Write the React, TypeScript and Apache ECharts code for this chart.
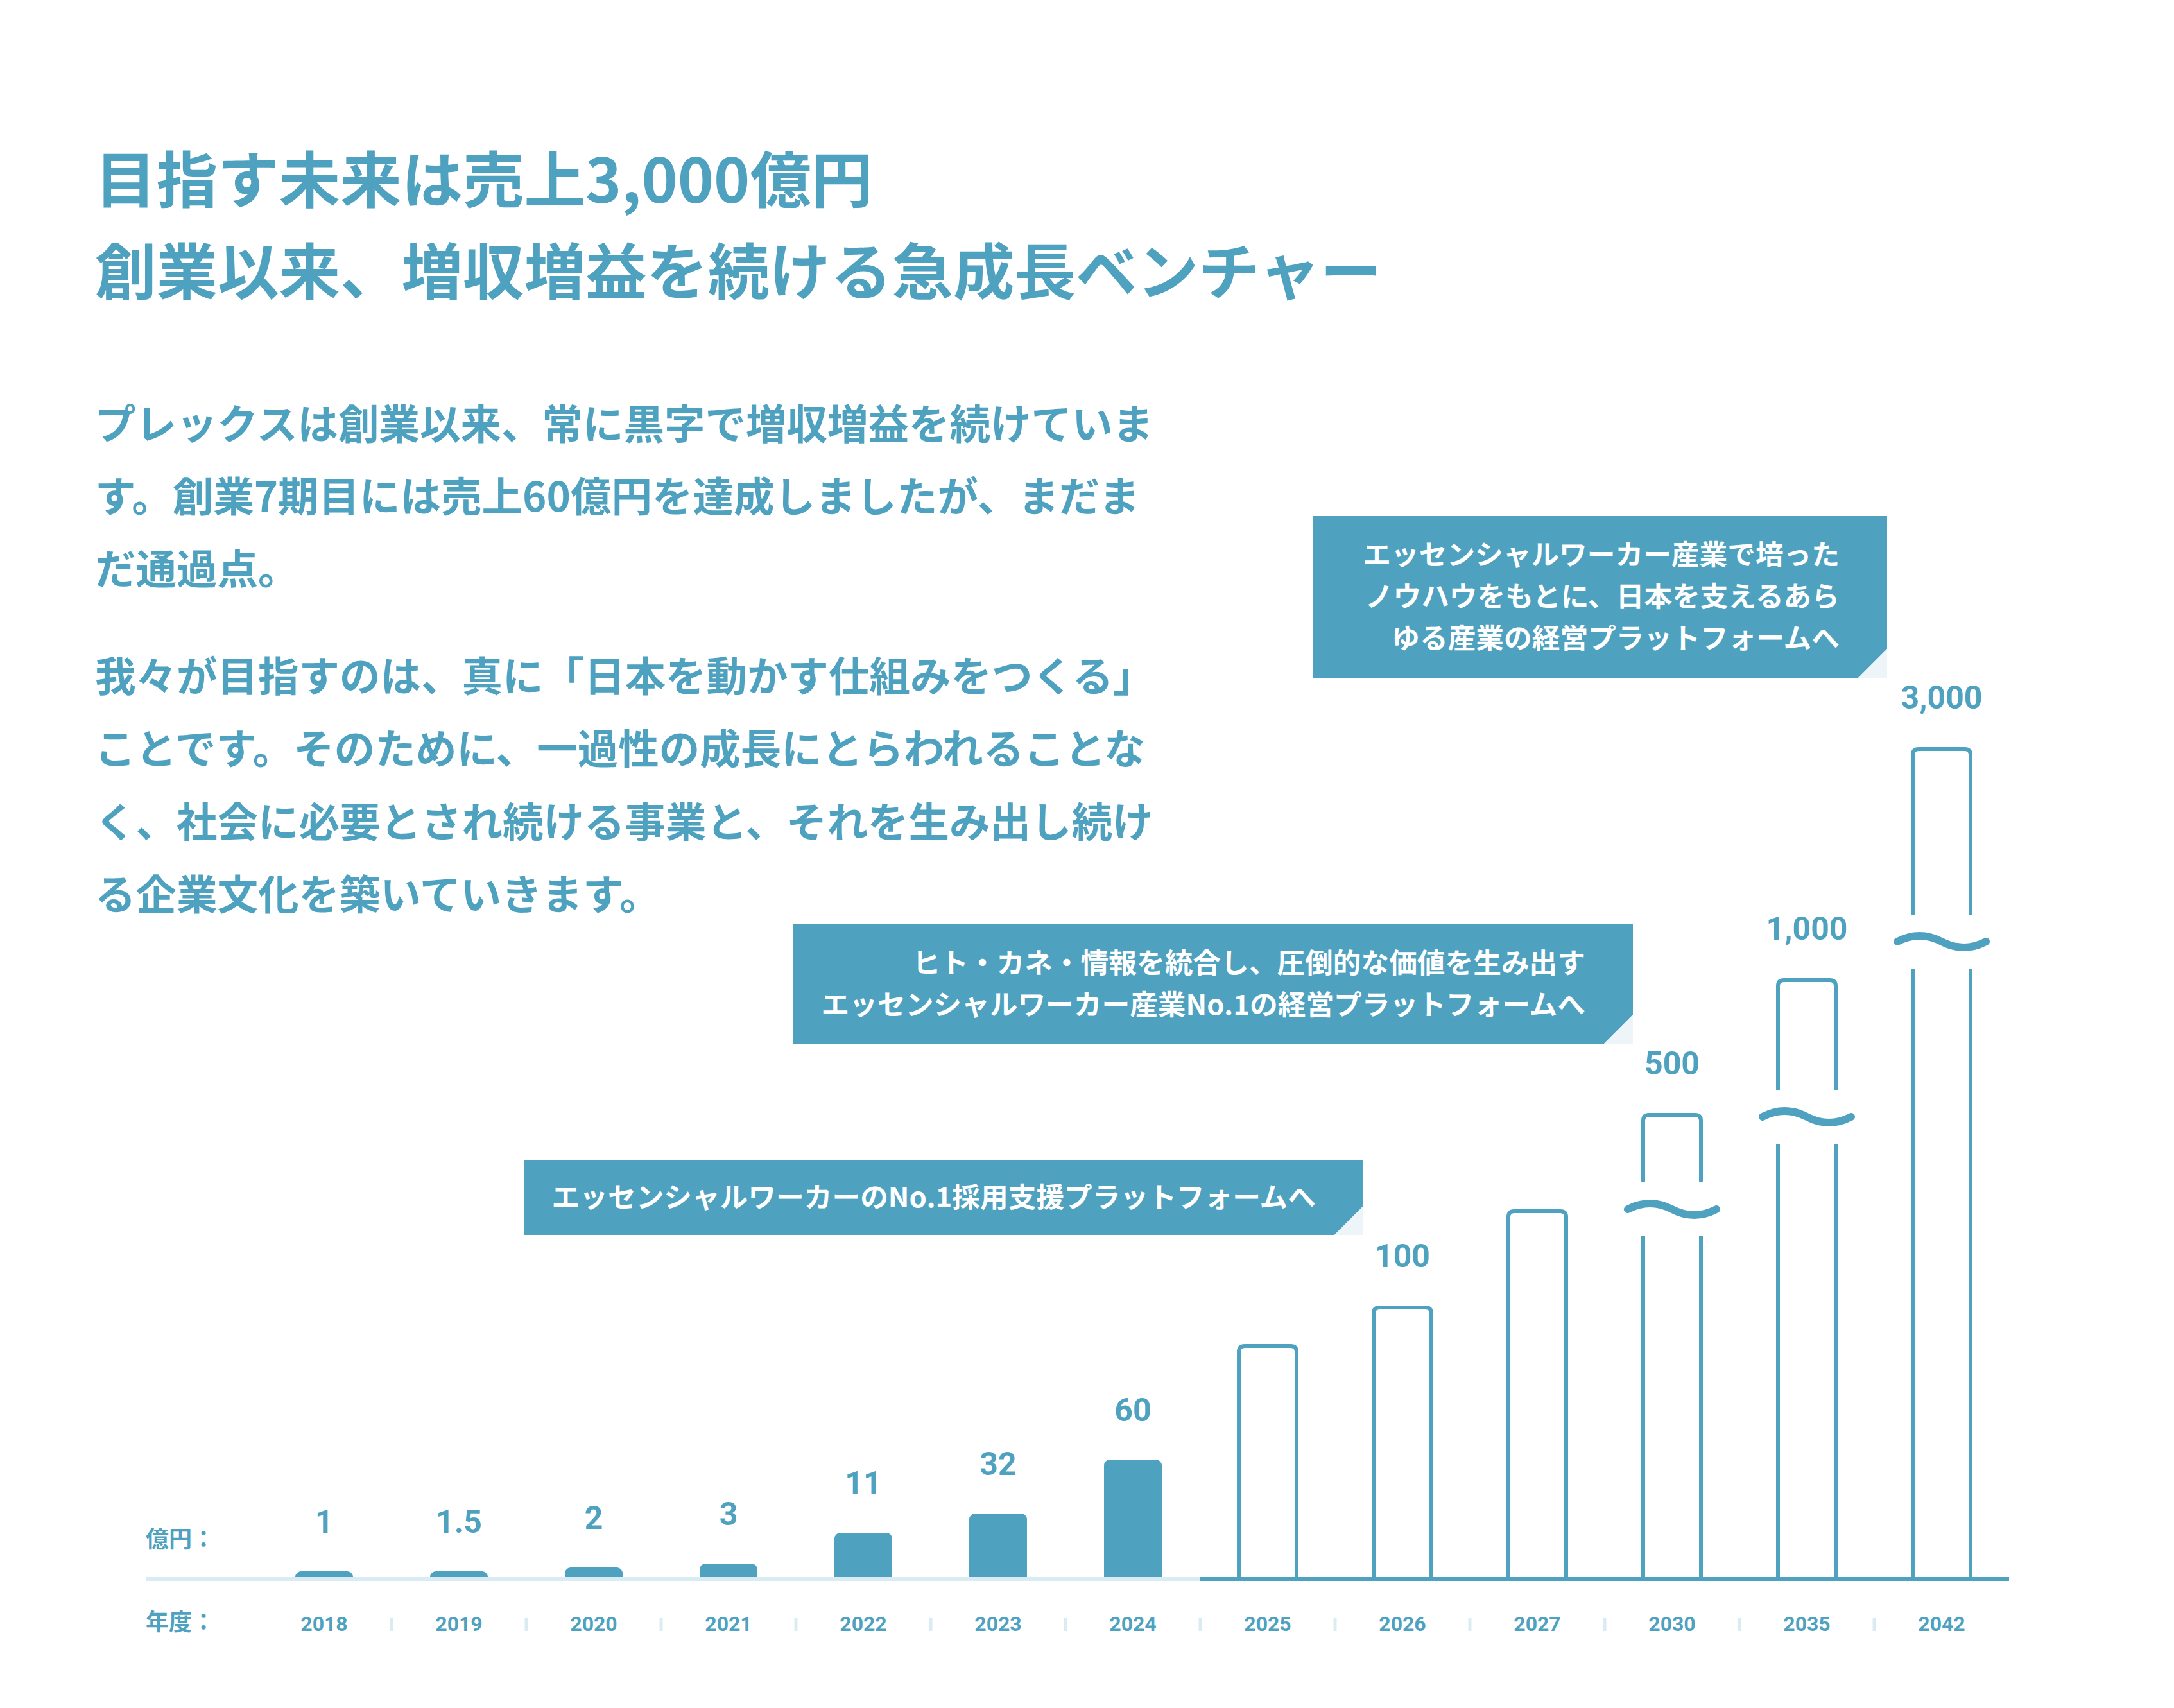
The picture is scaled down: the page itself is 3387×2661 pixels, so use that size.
import React, { useEffect, useRef } from 'react';
import * as echarts from 'echarts';

const TEAL = '#4ea1bf';
const LIGHT = '#daecf3';
const CORNER = '#eef5f8';
const JP = "'Noto Sans CJK JP', 'Noto Sans', sans-serif";
const NUM = "Roboto, 'Noto Sans', sans-serif";

// ---- data ----
const years = ['2018', '2019', '2020', '2021', '2022', '2023', '2024', '2025', '2026', '2027', '2030', '2035', '2042'];
const valueLabels = ['1', '1.5', '2', '3', '11', '32', '60', '', '100', '', '500', '1,000', '3,000'];
// bar heights as drawn in the picture (the original is not to scale)
const barHeights = [3, 3, 5, 7, 23, 33, 61, 120, 140, 190, 240, 310, 430];
const achievedCount = 7; // 2018-2024 achieved (filled bars); later years are targets (outline bars)
const breakYears = ['2030', '2035', '2042'];
const breakLevels = [191, 239, 330];

const titleLines = ['目指す未来は売上3,000億円', '創業以来、増収増益を続ける急成長ベンチャー'];
const paragraph1 = [
  'プレックスは創業以来、常に黒字で増収増益を続けていま',
  'す。創業7期目には売上60億円を達成しましたが、まだま',
  'だ通過点。',
];
const paragraph2 = [
  '我々が目指すのは、真に「日本を動かす仕組みをつくる」',
  'ことです。そのために、一過性の成長にとらわれることな',
  'く、社会に必要とされ続ける事業と、それを生み出し続け',
  'る企業文化を築いていきます。',
];
const calloutTexts = [
  ['エッセンシャルワーカー産業で培った', 'ノウハウをもとに、日本を支えるあら', 'ゆる産業の経営プラットフォームへ'],
  ['ヒト・カネ・情報を統合し、圧倒的な価値を生み出す', 'エッセンシャルワーカー産業No.1の経営プラットフォームへ'],
  ['エッセンシャルワーカーのNo.1採用支援プラットフォームへ'],
];
const unitLabel = '億円：';
const yearLabel = '年度：';

// ---- layout ----
const calloutBoxes = [
  [2046, 804, 2940, 1056],
  [1236, 1440, 2544, 1626],
  [816, 1807, 2124, 1924],
];
const TEXT_SHIFT = -4;

export default function App() {
  const ref = useRef<HTMLDivElement>(null);
  useEffect(() => {
    if (!ref.current) return;
    const chart = echarts.init(ref.current, null, { renderer: 'svg' });
    const barData = barHeights.map((h, i) => {
      const achieved = i < achievedCount;
      return {
        value: h,
        itemStyle: achieved
          ? { color: TEAL, borderRadius: [9, 9, 0, 0] }
          : { color: 'rgba(0,0,0,0)' },
        label: { distance: achieved ? 52 : 55 },
      };
    });
    const outlineData = barHeights
      .map((h, i) => [i, h])
      .filter((d) => d[0] >= achievedCount);
    const breakData = breakYears.map((y, i) => [years.indexOf(y), breakLevels[i]]);

    chart.setOption({
      animation: false,
      backgroundColor: '#ffffff',
      grid: { left: 400, right: 257, top: 1107, bottom: 204 },
      xAxis: {
        type: 'category',
        data: years,
        axisLine: { show: false },
        axisTick: { show: false },
        axisLabel: {
          color: TEAL,
          fontSize: 32,
          lineHeight: 32,
          fontWeight: 'bold',
          fontFamily: NUM,
          margin: 57,
        },
      },
      yAxis: { type: 'value', min: 0, max: 450, show: false, splitLine: { show: false } },
      series: [
        {
          type: 'bar',
          data: barData,
          barWidth: 90,
          z: 2,
          label: {
            show: true,
            position: 'top',
            color: TEAL,
            fontSize: 50,
            lineHeight: 50,
            fontWeight: 'bold',
            fontFamily: NUM,
            formatter: (p: any) => valueLabels[p.dataIndex],
          },
        },
        {
          type: 'custom',
          z: 3,
          data: outlineData,
          renderItem: (params: any, api: any) => {
            const top = api.coord([api.value(0), api.value(1)]);
            const base = api.coord([api.value(0), 0]);
            const half = 45;
            const r = 9;
            const l = top[0] - half;
            const rt = top[0] + half;
            const t = top[1];
            const b = base[1] + 2;
            const d = `M ${l} ${b} L ${l} ${t + r} Q ${l} ${t} ${l + r} ${t} L ${rt - r} ${t} Q ${rt} ${t} ${rt} ${t + r} L ${rt} ${b}`;
            return {
              type: 'path',
              shape: { pathData: d },
              style: { stroke: TEAL, lineWidth: 6, fill: null },
            };
          },
        },
        {
          type: 'custom',
          z: 5,
          data: breakData,
          renderItem: (params: any, api: any) => {
            const pt = api.coord([api.value(0), api.value(1)]);
            const cx = pt[0];
            const cy = pt[1];
            const d = `M ${cx - 69} ${cy} C ${cx - 46} ${cy - 12} ${cx - 23} ${cy - 12} ${cx} ${cy} C ${cx + 23} ${cy + 12} ${cx + 46} ${cy + 12} ${cx + 69} ${cy}`;
            return {
              type: 'group',
              children: [
                { type: 'rect', shape: { x: cx - 60, y: cy - 42, width: 120, height: 84 }, style: { fill: '#ffffff' } },
                { type: 'path', shape: { pathData: d }, style: { stroke: TEAL, lineWidth: 12, fill: null, lineCap: 'round' } },
              ],
            };
          },
        },
      ],
    });

    const p0 = chart.convertToPixel({ gridIndex: 0 }, [0, 0]) as number[];
    const p1 = chart.convertToPixel({ gridIndex: 0 }, [1, 0]) as number[];
    const band = p1[0] - p0[0];
    const baseY = p0[1];
    const boundary = (k: number) => p0[0] - band / 2 + k * band;

    const g: any[] = [];
    const text = (x: number, y: number, t: string, size: number, fill: string, align = 'left', family = JP) => ({
      type: 'text',
      x,
      y: y + TEXT_SHIFT,
      z: 20,
      style: { text: t, fill, fontSize: size, fontWeight: 'bold', fontFamily: family, align, verticalAlign: 'middle' },
    });

    // title
    g.push(text(148, 278, titleLines[0], 95.5, TEAL));
    g.push(text(148, 421, titleLines[1], 95.5, TEAL));
    // paragraphs
    const p1Y = [660, 773, 886];
    paragraph1.forEach((l, i) => g.push(text(148, p1Y[i], l, 63.5, TEAL)));
    const p2Y = [1053, 1166, 1280, 1393];
    paragraph2.forEach((l, i) => g.push(text(148, p2Y[i], l, 63.5, TEAL)));

    // callouts
    calloutBoxes.forEach((b, i) => {
      const [x0, y0, x1, y1] = b;
      const c = 45;
      g.push({
        type: 'polygon',
        z: 10,
        shape: { points: [[x0, y0], [x1, y0], [x1, y1 - c], [x1 - c, y1], [x0, y1]] },
        style: { fill: TEAL },
      });
      g.push({
        type: 'polygon',
        z: 10,
        shape: { points: [[x1, y1 - c], [x1, y1], [x1 - c, y1]] },
        style: { fill: CORNER },
      });
      const lines = calloutTexts[i];
      const mid = (y0 + y1) / 2;
      const step = 65;
      lines.forEach((l, j) => {
        const y = mid + (j - (lines.length - 1) / 2) * step;
        g.push(text(x1 - 74, y, l, 43.7, '#ffffff', 'right'));
      });
    });

    // unit labels
    g.push(text(227, 2399, unitLabel, 36, TEAL));
    g.push(text(227, 2528, yearLabel, 36, TEAL));

    // baseline
    const split = boundary(achievedCount);
    g.push({ type: 'line', z: 8, shape: { x1: 228, y1: baseY + 3, x2: split, y2: baseY + 3 }, style: { stroke: LIGHT, lineWidth: 6 } });
    g.push({ type: 'line', z: 8, shape: { x1: split, y1: baseY + 3, x2: boundary(years.length), y2: baseY + 3 }, style: { stroke: TEAL, lineWidth: 6 } });
    // separators between year labels
    for (let k = 1; k < years.length; k++) {
      const x = boundary(k);
      g.push({ type: 'line', z: 8, shape: { x1: x, y1: 2521, x2: x, y2: 2541 }, style: { stroke: LIGHT, lineWidth: 5 } });
    }

    chart.setOption({ graphic: g });

    return () => chart.dispose();
  }, []);
  return (
    <div
      ref={ref}
      style={{ position: 'fixed', left: 0, top: 0, width: '3387px', height: '2661px', background: '#ffffff' }}
    />
  );
}
